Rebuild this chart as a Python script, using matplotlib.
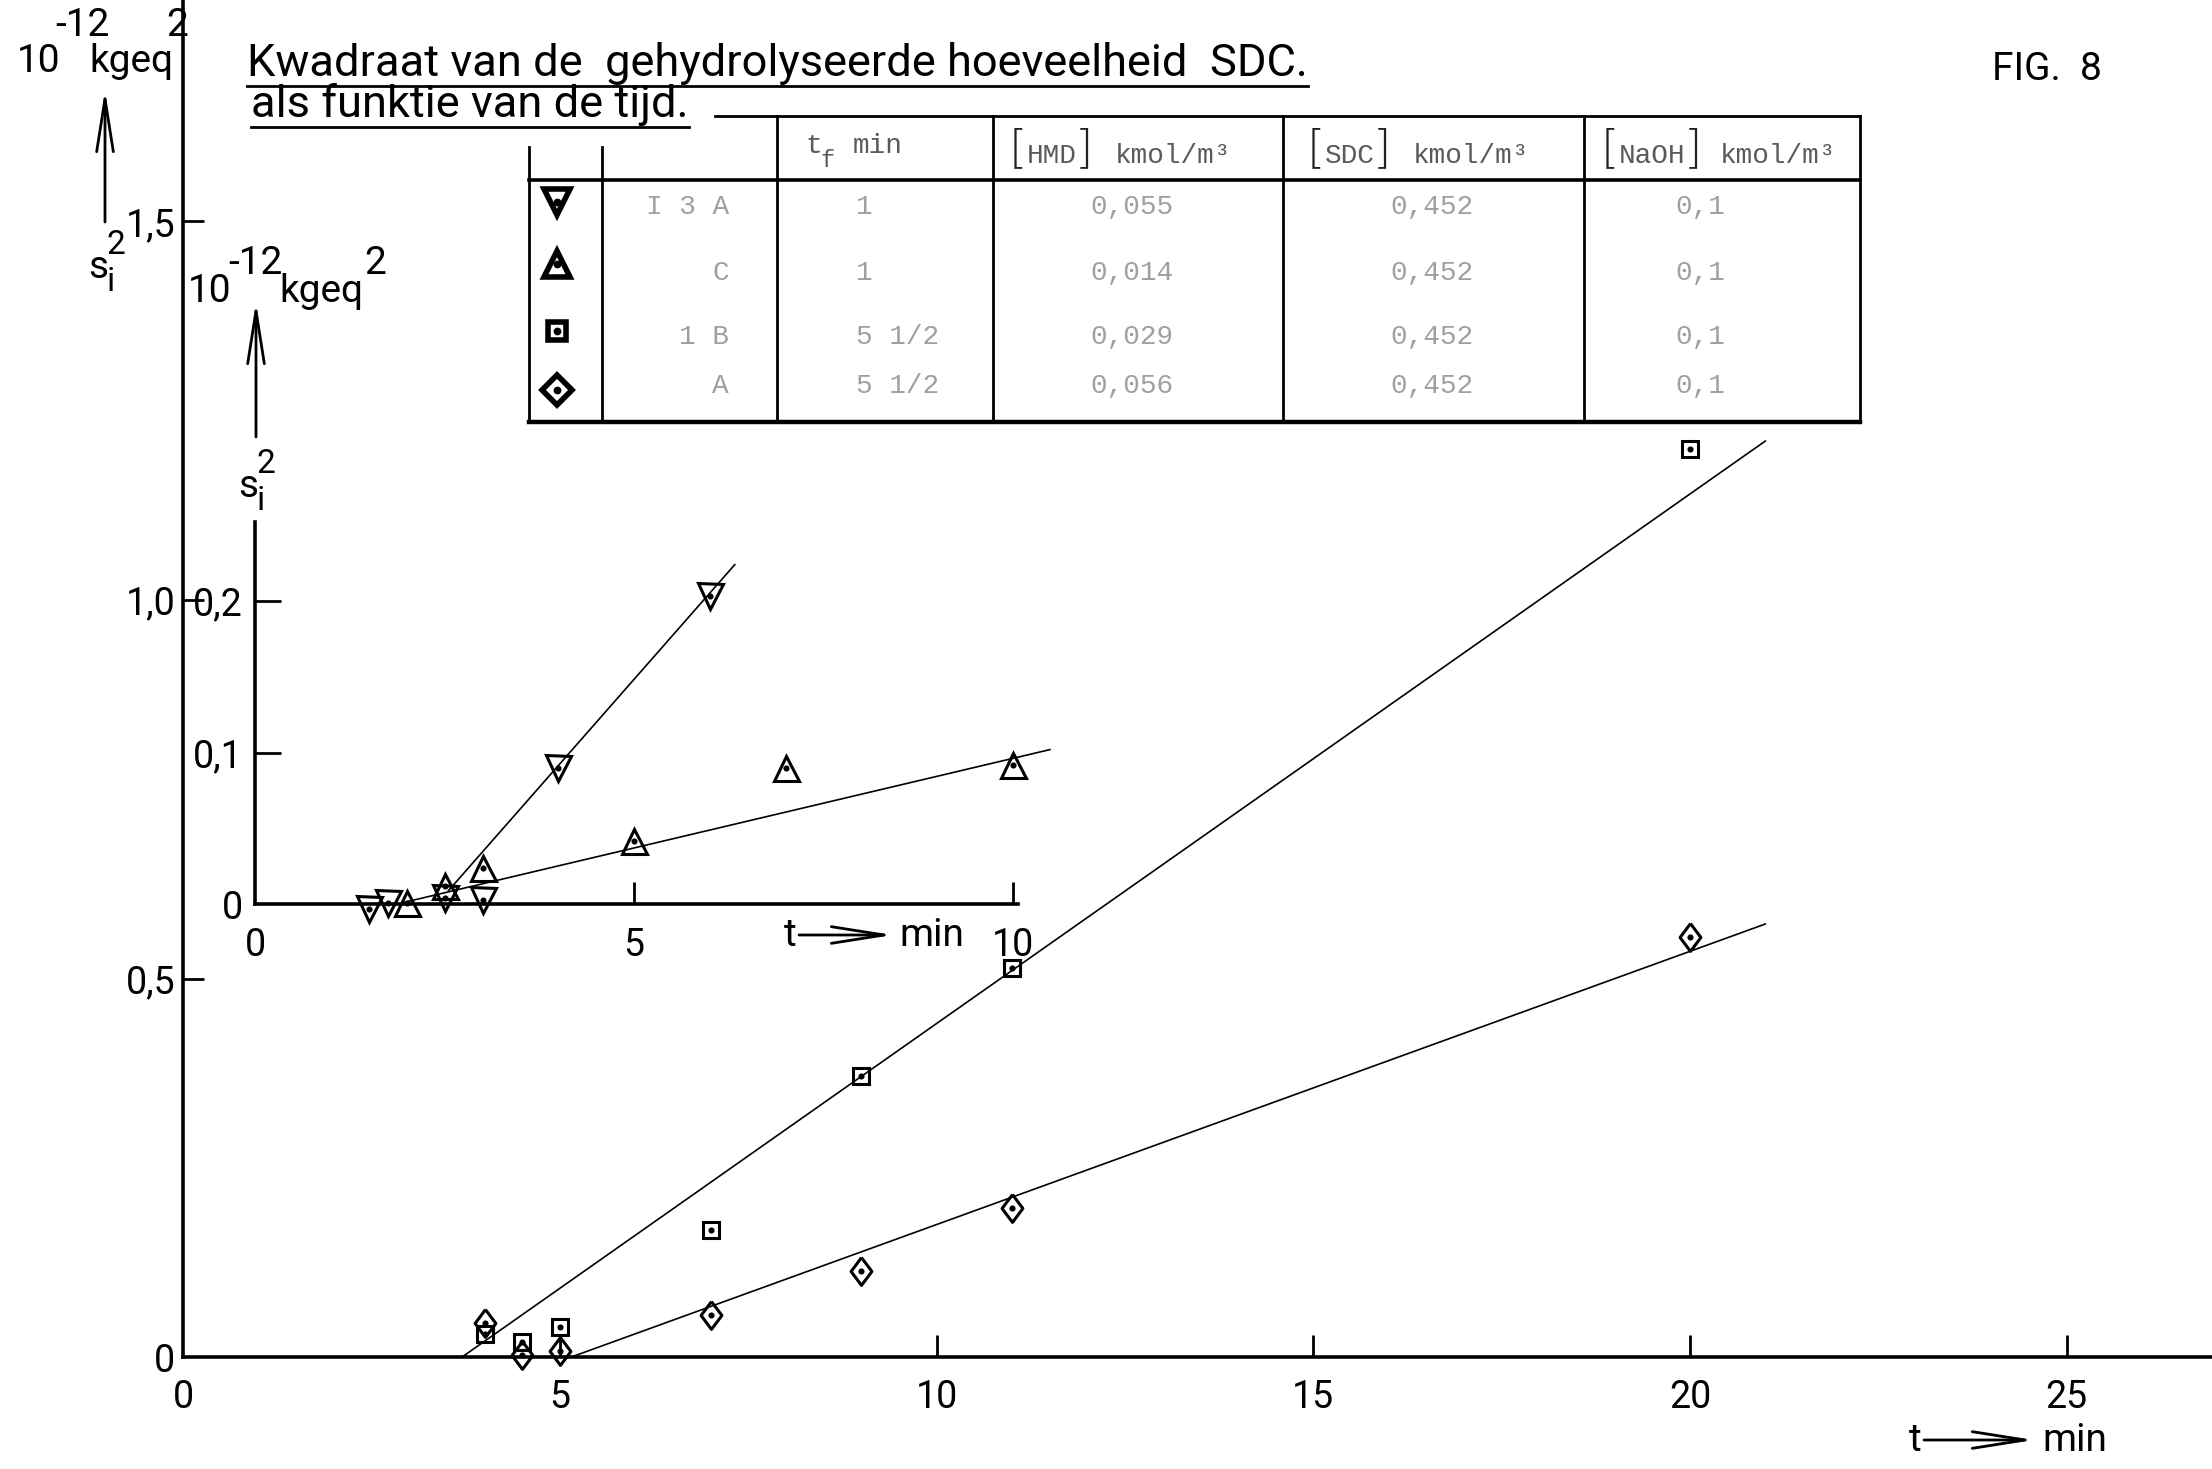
"""Kwadraat van de gehydrolyseerde hoeveelheid SDC als functie van de tijd (fig. 8)."""

import matplotlib

matplotlib.use("Agg")

import matplotlib.pyplot as plt
from matplotlib.lines import Line2D

plt.rcParams["font.family"] = ["Roboto", "DejaVu Sans"]
plt.rcParams["mathtext.default"] = "regular"

# --- hoofdgrafiek: t [min] tegen s_i^2 [1e-12 kgeq^2] ---
t_square = [4.0, 4.5, 5.0, 7.0, 9.0, 11.0, 20.0]
s2_square = [0.030, 0.020, 0.040, 0.168, 0.371, 0.514, 1.200]
t_diamond = [4.0, 4.5, 5.0, 7.0, 9.0, 11.0, 20.0]
s2_diamond = [0.045, 0.002, 0.008, 0.055, 0.114, 0.197, 0.555]
fit_square_t = [3.70, 21.0]
fit_square_s2 = [0.0, 1.21]
fit_diamond_t = [5.15, 21.0]
fit_diamond_s2 = [0.0, 0.572]

# --- ingezette grafiek: driehoekjes ---
t_down = [1.5, 1.75, 2.5, 3.0, 4.0, 6.0]
s2_down = [-0.003, 0.001, 0.004, 0.003, 0.090, 0.203]
t_up = [2.0, 2.5, 3.0, 5.0, 7.0, 10.0]
s2_up = [0.001, 0.012, 0.024, 0.042, 0.090, 0.092]
fit_down_t = [2.55, 6.33]
fit_down_s2 = [0.009, 0.224]
fit_up_t = [1.94, 10.49]
fit_up_s2 = [0.001, 0.102]

main_xticks = [0, 5, 10, 15, 20, 25]
main_yticks = [0, 0.5, 1.0, 1.5]
main_ylabels = ["0", "0,5", "1,0", "1,5"]
inset_xticks = [0, 5, 10]
inset_yticks = [0, 0.1, 0.2]
inset_ylabels = ["0", "0,1", "0,2"]

# --- tabel met proefcondities ---
table_markers = ["v", "^", "s", "D"]
table_ids = ["I 3 A", "C", "1 B", "A"]
table_tf = ["1", "1", "5 1/2", "5 1/2"]
table_hmd = ["0,055", "0,014", "0,029", "0,056"]
table_sdc = ["0,452", "0,452", "0,452", "0,452"]
table_naoh = ["0,1", "0,1", "0,1", "0,1"]
table_species = ["HMD", "SDC", "NaOH"]
table_unit = "kmol/m³"

W, H = 2212, 1469
DPI = 200
MONO = "Liberation Mono"
FS = 14
TICK_FS = 13.5

# ruitje iets smaller dan hoog
DIAMOND = [(0, 1), (0.75, 0), (0, -1), (-0.75, 0), (0, 1)]


def series(ax, t, s2, marker, ms):
    ax.plot(t, s2, ls="none", marker=marker, ms=ms, mfc="none", mec="black",
            mew=1.1, clip_on=False, zorder=3)
    ax.plot(t, s2, ls="none", marker="o", ms=1.2, color="black",
            clip_on=False, zorder=4)


def style_axes(ax, xticks, yticks, ylabels, xlen, ylen, ypad):
    ax.patch.set_alpha(0)
    for side in ("top", "right"):
        ax.spines[side].set_visible(False)
    for side in ("left", "bottom"):
        ax.spines[side].set_linewidth(1.3)
    ax.set_xticks(xticks)
    ax.set_xticklabels([str(v) for v in xticks])
    ax.set_yticks(yticks)
    ax.set_yticklabels(ylabels)
    ax.tick_params(axis="x", direction="in", length=xlen, width=1.0, pad=8, labelsize=TICK_FS)
    ax.tick_params(axis="y", direction="in", length=ylen, width=1.0, pad=ypad, labelsize=TICK_FS)
    # geen streepje in de oorsprong
    ax.xaxis.get_major_ticks()[0].tick1line.set_visible(False)
    ax.yaxis.get_major_ticks()[0].tick1line.set_visible(False)


fig = plt.figure(figsize=(W / DPI, H / DPI), dpi=DPI)

# overlay in beeldpunten voor titel, tabel en aslabels
ov = fig.add_axes([0, 0, 1, 1])
ov.set_xlim(0, W)
ov.set_ylim(H, 0)
ov.axis("off")

# hoofdgrafiek
ax = fig.add_axes([183.4 / W, (H - 1357) / H, 1 - 183.4 / W, 1357 / H])
ax.set_xlim(0, (W - 183.4) / 75.33)
ax.set_ylim(0, 1357 / 757.0)
style_axes(ax, main_xticks, main_yticks, main_ylabels, 8, 7.5, 3)
ax.plot(fit_square_t, fit_square_s2, color="black", lw=0.6, zorder=2)
ax.plot(fit_diamond_t, fit_diamond_s2, color="black", lw=0.6, zorder=2)
series(ax, t_square, s2_square, "s", 6)
series(ax, t_diamond, s2_diamond, DIAMOND, 10)

# ingezette grafiek
ins = fig.add_axes([255.3 / W, (H - 904.3) / H, 10.07 * 75.75 / W, 0.252 * 1516.5 / H])
ins.set_xlim(0, 10.07)
ins.set_ylim(0, 0.252)
style_axes(ins, inset_xticks, inset_yticks, inset_ylabels, 8, 9.5, 4.5)
ins.plot(fit_down_t, fit_down_s2, color="black", lw=0.6, clip_on=False, zorder=2)
ins.plot(fit_up_t, fit_up_s2, color="black", lw=0.6, clip_on=False, zorder=2)
series(ins, t_down, s2_down, "v", 9)
series(ins, t_up, s2_up, "^", 9)


def arrow(x0, y0, x1, y1):
    ov.annotate("", xy=(x1, y1), xytext=(x0, y0),
                arrowprops=dict(arrowstyle="->,head_length=0.95,head_width=0.15",
                                lw=1.0, color="black", mutation_scale=20,
                                shrinkA=0, shrinkB=0))


def s_i_squared(x, base):
    ov.text(x, base, "s", ha="left", va="baseline", fontsize=FS)
    ov.text(x + 19, base + 13, "i", ha="left", va="baseline", fontsize=12)
    ov.text(x + 19, base - 24, "2", ha="left", va="baseline", fontsize=12)


# eenheden en grootheid langs de y-assen
for (x10, xexp, xk, x2, base, sup) in [(17, 55, 89, 166, 72, 36), (188, 228, 279, 364, 302, 274)]:
    ov.text(x10, base, "10", ha="left", va="baseline", fontsize=FS)
    ov.text(xexp, sup, "-12", ha="left", va="baseline", fontsize=FS)
    ov.text(xk, base, "kgeq", ha="left", va="baseline", fontsize=FS)
    ov.text(x2, sup, "2", ha="left", va="baseline", fontsize=FS)
arrow(105, 222, 105, 90)
arrow(256, 437, 256, 302)
s_i_squared(88, 278)
s_i_squared(238, 497)

# tijd-as labels
ov.text(1915, 1451, "t", ha="center", va="baseline", fontsize=FS)
arrow(1924, 1440, 2034, 1440)
ov.text(2042, 1451, "min", ha="left", va="baseline", fontsize=FS)
ov.text(790, 946, "t", ha="center", va="baseline", fontsize=FS)
arrow(799, 935, 893, 935)
ov.text(899, 946, "min", ha="left", va="baseline", fontsize=FS)

# titel, onderstreept
titles = [
    ov.text(247, 76, "Kwadraat van de  gehydrolyseerde hoeveelheid  SDC.", fontsize=16.3, va="baseline"),
    ov.text(251, 117, "als funktie van de tijd.", fontsize=16.3, va="baseline"),
]
ov.text(1992, 80, "FIG.  8", fontsize=FS, va="baseline")
fig.canvas.draw()
inv = ov.transData.inverted()
for t in titles:
    bb = t.get_window_extent()
    (xa, _), (xb, _) = inv.transform([(bb.x0, 0), (bb.x1, 0)])
    y = t.get_position()[1] + 10
    ov.add_line(Line2D([xa, xb], [y, y], color="black", lw=1.0))

# tabel
tx = [529, 602, 777, 993, 1283, 1584, 1860]
y_top, y_head, y_bot, y_left = 116, 180, 422, 147
ov.add_line(Line2D([715, tx[-1]], [y_top, y_top], color="black", lw=1.0))
ov.add_line(Line2D([tx[0], tx[-1]], [y_head, y_head], color="black", lw=1.3))
ov.add_line(Line2D([tx[0], tx[-1]], [y_bot, y_bot], color="black", lw=1.6))
for i, x in enumerate(tx):
    ov.add_line(Line2D([x, x], [y_left if i < 2 else y_top, y_bot], color="black", lw=1.0))

# kop: t_f min en [stof] kmol/m3 met grote haken
head_kw = dict(va="baseline", fontsize=10, family=MONO, color="#5a5a5a")
bracket_kw = dict(ha="center", va="center", fontsize=17, color="#222222",
                  family="DejaVu Sans", fontweight="light")
ov.text(805, 153, "t", ha="left", **head_kw)
ov.text(820, 167, "f", ha="left", **{**head_kw, "fontsize": 8.5})
ov.text(853, 153, "min", ha="left", **head_kw)
bracket_left = [1018, 1316, 1610]
unit_left = [1115, 1413, 1720]
char_w = 10 * DPI / 72 * 0.6
for xb, xu, name in zip(bracket_left, unit_left, table_species):
    ov.text(xb, 149, "[", **bracket_kw)
    ov.text(xb + 9, 163, name, ha="left", **head_kw)
    ov.text(xb + 16 + char_w * len(name), 149, "]", **bracket_kw)
    ov.text(xu, 163, table_unit, ha="left", **head_kw)

marker_y = [202, 264, 331, 390]
row_y = [207, 273, 337, 386]
body_kw = dict(va="center", fontsize=10, family=MONO, color="#a0a0a0")
for i, y in enumerate(row_y):
    m = table_markers[i]
    ms = {"v": 9.5, "^": 9.5, "s": 6.5, "D": 7.5}[m]
    ov.plot([557], [marker_y[i]], ls="none", marker=m, ms=ms, mfc="none", mec="black", mew=2.0)
    ov.plot([557], [marker_y[i]], ls="none", marker="o", ms=1.8, color="black")
    ov.text(729, y, table_ids[i], ha="right", **body_kw)
    ov.text(856, y, table_tf[i], ha="left", **body_kw)
    ov.text(1132, y, table_hmd[i], ha="center", **body_kw)
    ov.text(1432, y, table_sdc[i], ha="center", **body_kw)
    ov.text(1700, y, table_naoh[i], ha="center", **body_kw)

fig.savefig("out.png", dpi=DPI)
plt.close(fig)
